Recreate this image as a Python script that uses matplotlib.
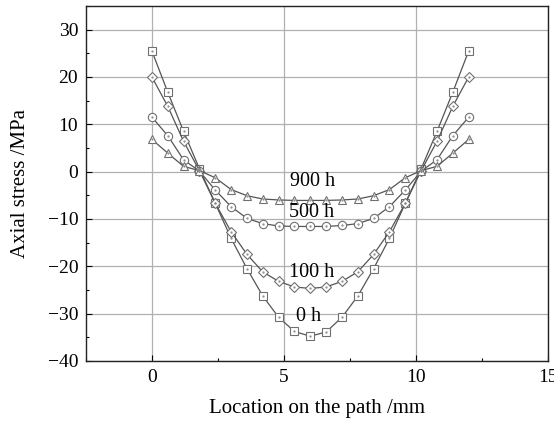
import numpy as np
import matplotlib.pyplot as plt
from matplotlib.ticker import MultipleLocator

plt.rcParams['font.family'] = ['Liberation Serif', 'DejaVu Serif']

# sample points along the path, 0..12 mm every 0.6 mm
location = [0.0, 0.6, 1.2, 1.8, 2.4, 3.0, 3.6, 4.2, 4.8, 5.4, 6.0,
            6.6, 7.2, 7.8, 8.4, 9.0, 9.6, 10.2, 10.8, 11.4, 12.0]

stress_0h = [25.5, 16.8, 8.5, 0.6, -6.7, -14.1, -20.5, -26.3, -30.8, -33.8, -34.8,
             -33.9, -30.8, -26.3, -20.5, -14.1, -6.7, 0.6, 8.5, 16.8, 25.5]
stress_100h = [20.0, 13.8, 6.4, 0.2, -6.7, -12.7, -17.5, -21.2, -23.2, -24.4, -24.7,
               -24.4, -23.2, -21.2, -17.5, -12.7, -6.7, 0.2, 6.4, 13.8, 20.0]
stress_500h = [11.5, 7.6, 2.5, 0.1, -3.9, -7.4, -9.9, -11.0, -11.5, -11.6, -11.6,
               -11.6, -11.4, -11.0, -9.9, -7.4, -3.9, 0.1, 2.5, 7.6, 11.5]
stress_900h = [6.8, 3.9, 1.1, 0.2, -1.3, -3.8, -5.1, -5.8, -6.0, -6.1, -6.1,
               -6.1, -6.0, -5.8, -5.1, -3.8, -1.3, 0.2, 1.1, 3.9, 6.8]

series = [
    (stress_0h, 's', '0 h', (5.45, -30.6)),
    (stress_100h, 'D', '100 h', (5.2, -21.4)),
    (stress_500h, 'o', '500 h', (5.2, -8.6)),
    (stress_900h, '^', '900 h', (5.25, -2.2)),
]

fig = plt.figure(figsize=(5.54, 4.25), dpi=100)
ax = fig.add_axes([0.155, 0.151, 0.834, 0.835])

line_c = '#555555'
mark_c = '#707070'
sizes = {'s': 5.5, 'D': 5.0, 'o': 6.0, '^': 6.2}
for vals, mk, lab, pos in series:
    ax.plot(location, vals, color=line_c, lw=0.9, marker=mk, ms=sizes[mk],
            mfc='white', mec=mark_c, mew=0.8, zorder=3)
    ax.plot(location, vals, ls='none', marker='.', ms=1.2, color='#888888', zorder=4)
    ax.text(pos[0], pos[1], lab, fontsize=14.5, va='center', ha='left', zorder=5)

ax.set_xlim(-2.5, 15)
ax.set_ylim(-40, 35)
ax.xaxis.set_major_locator(MultipleLocator(5))
ax.xaxis.set_minor_locator(MultipleLocator(2.5))
ax.yaxis.set_major_locator(MultipleLocator(10))
ax.yaxis.set_minor_locator(MultipleLocator(5))
ax.tick_params(which='both', direction='in', top=False, right=False, labelsize=14)
ax.tick_params(which='major', length=4, width=0.8)
ax.tick_params(which='minor', length=2.5, width=0.8)
ax.tick_params(axis='x', pad=6)
ax.tick_params(axis='y', pad=5.5)
ax.grid(True, which='major', color='#b0b0b0', lw=0.9)
ax.set_axisbelow(True)
for sp in ax.spines.values():
    sp.set_linewidth(1.0)
    sp.set_color('#222222')

ax.set_xlabel('Location on the path /mm', fontsize=15, labelpad=9)
ax.set_ylabel('Axial stress /MPa', fontsize=15, labelpad=13)

fig.savefig('out.png', dpi=100)
